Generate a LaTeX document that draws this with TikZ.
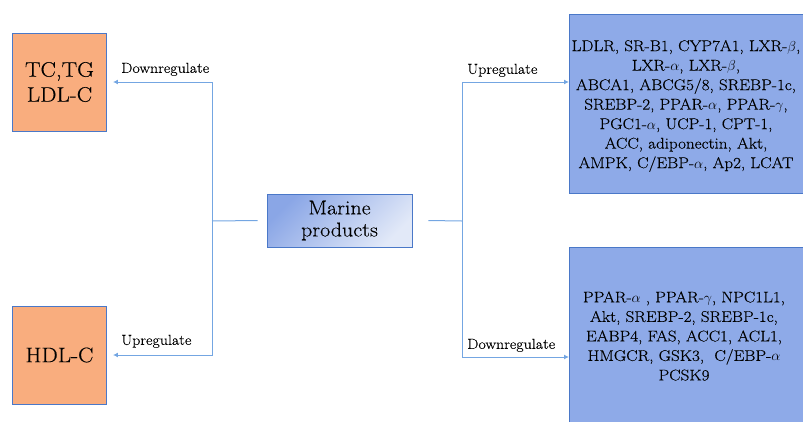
\documentclass[tikz,border=0pt]{standalone}
\usepackage{fontspec}
\setmainfont{Latin Modern Roman}[FakeStretch=1.1,FakeBold=0.3]
\usetikzlibrary{arrows.meta}
\definecolor{salmon}{HTML}{F9AD7E}
\definecolor{boxblue}{HTML}{8EAAE8}
\definecolor{edgeblue}{HTML}{4A78C8}
\definecolor{linkblue}{HTML}{74A6E2}
\definecolor{gradA}{HTML}{8AA6E6}
\definecolor{gradB}{HTML}{E2E9F8}
\tikzset{
  outbox/.style={draw=edgeblue, line width=0.9pt, fill=salmon, minimum width=94pt, minimum height=98pt, inner sep=0pt, font=\fontsize{21}{25}\selectfont, align=center},
  genebox/.style={draw=edgeblue, line width=0.9pt, fill=boxblue, inner sep=0pt},
  genetext/.style={align=center, font=\fontsize{15.5}{19.5}\selectfont, inner sep=0pt},
  link/.style={draw=linkblue, line width=1pt},
  arr/.style={link, -{Latex[length=5pt,width=5pt]}},
  lab/.style={font=\fontsize{14.5}{16}\selectfont, inner sep=0pt, anchor=south west},
}
\begin{document}
\begin{tikzpicture}[x=1pt,y=-1pt]
\useasboundingbox (0,0) rectangle (803,421);
\begin{scope}
\clip (0,0) rectangle (803,421);
% boxes
\node[outbox] (tc) at (59.5,82) {TC,TG\\LDL-C};
\node[outbox] (hdl) at (59.5,355) {HDL-C};
\node[draw=edgeblue, line width=0.9pt, left color=gradA, right color=gradB, shading angle=45, minimum width=145pt, minimum height=53pt, inner sep=0pt, align=center, font=\fontsize{20}{22}\selectfont] (mp) at (339.5,220.5) {Marine\\products};
\node[genebox, minimum width=238pt, minimum height=179pt] (ub) at (688,103.5) {};
\node[genebox, minimum width=238pt, minimum height=190pt] (db) at (688,342) {};
\node[genetext] (ut) at (686,106) {LDLR, SR-B1, CYP7A1, LXR-$\beta$,\\LXR-$\alpha$, LXR-$\beta$,\\ABCA1, ABCG5/8, SREBP-1c,\\SREBP-2, PPAR-$\alpha$, PPAR-$\gamma$,\\PGC1-$\alpha$, UCP-1, CPT-1,\\ACC, adiponectin, Akt,\\AMPK, C/EBP-$\alpha$, Ap2, LCAT};
\node[genetext] (dt) at (684,336) {PPAR-$\alpha$ , PPAR-$\gamma$, NPC1L1,\\Akt, SREBP-2, SREBP-1c,\\EABP4, FAS, ACC1, ACL1,\\HMGCR, GSK3,\ \ C/EBP-$\alpha$\\PCSK9};
\end{scope}
% junctions
\coordinate (jl) at (212,221);
\coordinate (jr) at (462,221);
\coordinate (ua) at (569,82);
\coordinate (da) at (569,357);
% connectors
\draw[link] (mp.west) ++(-9,0) -- (jl);
\draw[link] (mp.east) ++(16,0) -- (jr);
\draw[arr, shorten >=6pt] (jl) |- (tc.east);
\draw[arr, shorten >=6pt] (jl) |- (hdl.east);
\draw[arr] (jr) |- (ua);
\draw[arr] (jr) |- (da);
% labels
\node[lab] (l1) at (121,76) {Downregulate};
\node[lab] (l2) at (121,348) {Upregulate};
\node[lab] (l3) at (467,77) {Upregulate};
\node[lab] (l4) at (467,352) {Downregulate};
\end{tikzpicture}
\end{document}
